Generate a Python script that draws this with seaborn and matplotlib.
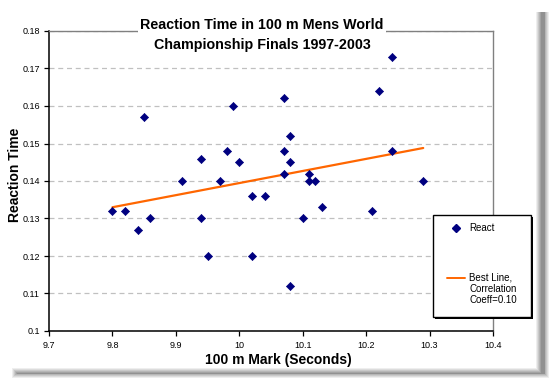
import matplotlib
matplotlib.use("Agg")
import matplotlib.pyplot as plt
import seaborn as sns
import pandas as pd
from matplotlib.patches import Rectangle
from matplotlib.lines import Line2D

# ---- data ----
mark = [9.80, 9.82, 9.84, 9.85, 9.86, 9.91, 9.94, 9.94, 9.95, 9.97, 9.98,
        9.99, 10.00, 10.02, 10.02, 10.04, 10.07, 10.07, 10.07, 10.08, 10.08,
        10.08, 10.10, 10.11, 10.11, 10.12, 10.13, 10.21, 10.22, 10.24, 10.24,
        10.29]
react = [0.132, 0.132, 0.127, 0.157, 0.130, 0.140, 0.146, 0.130, 0.120,
         0.140, 0.148, 0.160, 0.145, 0.136, 0.120, 0.136, 0.162, 0.148,
         0.142, 0.152, 0.145, 0.112, 0.130, 0.142, 0.140, 0.140, 0.133,
         0.132, 0.164, 0.173, 0.148, 0.140]
fit_x = [9.80, 10.29]
fit_y = [0.133, 0.1488]
x_ticks = [9.7, 9.8, 9.9, 10.0, 10.1, 10.2, 10.3, 10.4]
x_labels = ["9.7", "9.8", "9.9", "10", "10.1", "10.2", "10.3", "10.4"]
y_ticks = [0.10, 0.11, 0.12, 0.13, 0.14, 0.15, 0.16, 0.17, 0.18]
y_labels = ["0.1", "0.11", "0.12", "0.13", "0.14", "0.15", "0.16", "0.17", "0.18"]
title = "Reaction Time in 100 m Mens World\nChampionship Finals 1997-2003"
xlabel = "100 m Mark (Seconds)"
ylabel = "Reaction Time"
label_pts = "React"
label_fit = "Best Line,\nCorrelation\nCoeff=0.10"

df = pd.DataFrame({"mark": mark, "react": react})
fit_df = pd.DataFrame({"x": fit_x, "y": fit_y})

sns.set_theme(style="white")
plt.rcParams["font.family"] = ["Liberation Sans", "DejaVu Sans"]
plt.rcParams["text.color"] = "black"
plt.rcParams["xtick.color"] = "black"
plt.rcParams["ytick.color"] = "black"

W, H = 549, 382
fig = plt.figure(figsize=(W / 100, H / 100), dpi=100)
fig.patch.set_facecolor("white")

def P(x, y):
    return (x / W, 1 - y / H)

# drop shadow of chart area
for i, a in enumerate([0.10, 0.12, 0.15, 0.18, 0.22, 0.26]):
    d = i * 0.9
    fig.add_artist(Rectangle(P(536 + d, 378 - d), (W - 536 - 2 * d) / W, (378 - 12 - d) / H,
                             transform=fig.transFigure, color="#606060", alpha=a, lw=0, zorder=-3))
    fig.add_artist(Rectangle(P(12 + d, 378 - d), (536 - 12) / W, (378 - 368 - 2 * d) / H,
                             transform=fig.transFigure, color="#606060", alpha=a, lw=0, zorder=-3))
fig.add_artist(Rectangle(P(0, 368), 536 / W, 368 / H, transform=fig.transFigure,
                         color="white", lw=0, zorder=-2))

ax = fig.add_axes([49 / W, 1 - 331 / H, (493 - 49) / W, (331 - 31) / H])
ax.set_facecolor("white")

sns.lineplot(data=fit_df, x="x", y="y", ax=ax, color="#FF6600", lw=1.6, zorder=2)
sns.scatterplot(data=df, x="mark", y="react", ax=ax, marker="D", s=17,
                color="#000080", edgecolor="#000080", linewidth=0.5, zorder=3)

ax.set_xlim(9.7, 10.4)
ax.set_ylim(0.10, 0.18)
ax.set_xticks(x_ticks)
ax.set_xticklabels(x_labels)
ax.set_yticks(y_ticks)
ax.set_yticklabels(y_labels)
ax.yaxis.grid(True, color="#C0C0C0", linestyle=(0, (4, 3)), lw=0.9)
ax.xaxis.grid(False)
ax.set_axisbelow(True)
ax.tick_params(axis="both", labelsize=6.5, length=3.5, width=0.9,
               direction="out", colors="black")
ax.tick_params(axis="y", pad=3)
ax.tick_params(axis="x", pad=4)
ax.tick_params(axis="both", bottom=True, left=True)
for s in ["left", "bottom"]:
    ax.spines[s].set_color("black")
    ax.spines[s].set_linewidth(1.1)
for s in ["top", "right"]:
    ax.spines[s].set_color("#808080")
    ax.spines[s].set_linewidth(1.0)
ax.set_xlabel("")
ax.set_ylabel("")

fig.text(*P(278, 360), xlabel, ha="center", va="center", fontsize=10, fontweight="bold")
fig.text(*P(15, 175), ylabel, ha="center", va="center", rotation=90, fontsize=10,
         fontweight="bold")
fig.text(*P(262, 35), title, ha="center", va="center", fontsize=10.3, fontweight="bold",
         linespacing=1.5, bbox=dict(facecolor="white", edgecolor="none", pad=1.5), zorder=5)

# legend box
lx0, ly0, lx1, ly1 = 433, 215, 531, 317
fig.add_artist(Rectangle(P(lx0 + 2, ly1 + 2), (lx1 - lx0) / W, (ly1 - ly0) / H,
                         transform=fig.transFigure, facecolor="black", edgecolor="black",
                         lw=0, zorder=6))
fig.add_artist(Rectangle(P(lx0, ly1), (lx1 - lx0) / W, (ly1 - ly0) / H,
                         transform=fig.transFigure, facecolor="white", edgecolor="black",
                         lw=1.0, zorder=7))
mx, my = P(456, 228)
fig.add_artist(Line2D([mx], [my], transform=fig.transFigure, marker="D", ms=4.2,
                      color="#000080", ls="none", zorder=8))
fig.text(*P(469, 228), label_pts, ha="left", va="center", fontsize=7, zorder=8)
x0, yl = P(447, 278)
x1, _ = P(465, 278)
fig.add_artist(Line2D([x0, x1], [yl, yl], transform=fig.transFigure, color="#FF6600",
                      lw=1.4, zorder=8))
fig.text(*P(469, 272.5), label_fit, ha="left", va="top", fontsize=7, linespacing=1.15,
         multialignment="left", zorder=8)

fig.savefig("out.png", dpi=100, facecolor="white")
